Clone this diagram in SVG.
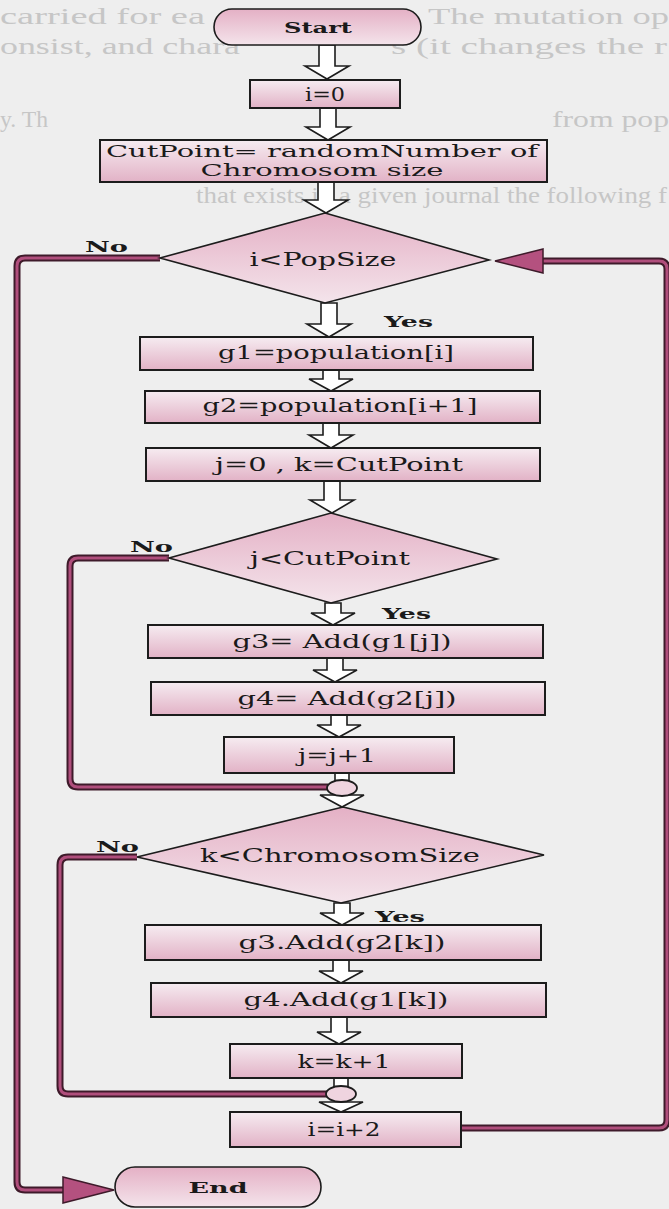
<svg xmlns="http://www.w3.org/2000/svg" width="669" height="1209" viewBox="0 0 669 1209">
<defs>
<linearGradient id="gBox" x1="0" y1="0" x2="0" y2="1"><stop offset="0" stop-color="#f6ecf1"/><stop offset="1" stop-color="#e2b2c6"/></linearGradient>
<linearGradient id="gDia" x1="0" y1="0" x2="0" y2="1"><stop offset="0" stop-color="#e4b0c5"/><stop offset="1" stop-color="#f4e4eb"/></linearGradient>
<style>
.bg{font-family:"Liberation Serif",serif;font-size:24px;fill:#c6c6c6}
.box{fill:url(#gBox);stroke:#1c1c1c;stroke-width:2}
.dia{fill:url(#gDia);stroke:#1c1c1c;stroke-width:1.6}
.t{font-family:"DejaVu Serif","Liberation Serif",serif;font-size:19px;fill:#1a1a1a;text-anchor:middle}
.t2{font-family:"DejaVu Serif","Liberation Serif",serif;font-size:16px;fill:#1a1a1a;text-anchor:middle}
.tb{font-family:"DejaVu Serif","Liberation Serif",serif;font-size:15px;font-weight:bold;fill:#1a1a1a;text-anchor:middle}
.lb{font-family:"DejaVu Serif","Liberation Serif",serif;font-size:15px;font-weight:bold;fill:#1a1a1a}
.bar{fill:#ffffff;stroke:#1c1c1c;stroke-width:1.6;stroke-linejoin:miter}
.lo{fill:none;stroke:#3e1a2a;stroke-width:7}
.li{fill:none;stroke:#b04e7c;stroke-width:3}
.ah{fill:#b4517f;stroke:#3e1a2a;stroke-width:1.5}
.jn{fill:#efd4df;stroke:#1c1c1c;stroke-width:1.8}
</style>
</defs>
<rect x="0" y="0" width="669" height="1209" fill="#eeeeee"/>
<g id="page-text">
<text class="bg" x="0" y="24" textLength="205" lengthAdjust="spacingAndGlyphs">carried for ea</text>
<text class="bg" x="428" y="24" textLength="241" lengthAdjust="spacingAndGlyphs">The mutation op</text>
<text class="bg" x="0" y="54" textLength="240" lengthAdjust="spacingAndGlyphs">onsist, and chara</text>
<text class="bg" x="391" y="54" textLength="276" lengthAdjust="spacingAndGlyphs">s (it changes the r</text>
<text class="bg" x="0" y="127" textLength="48" lengthAdjust="spacingAndGlyphs">y. Th</text>
<text class="bg" x="552" y="127" textLength="117" lengthAdjust="spacingAndGlyphs">from pop</text>
<text class="bg" x="196" y="203" textLength="471" lengthAdjust="spacingAndGlyphs">that exists in a given journal the following f</text>
</g>
<g id="connectors">
<path class="lo" d="M160,258 H25 Q17,258 17,266 V1182 Q17,1190 25,1190 H64"/>
<path class="li" d="M160,258 H25 Q17,258 17,266 V1182 Q17,1190 25,1190 H64"/>
<path class="lo" d="M169,558 H78 Q70,558 70,566 V779 Q70,787 78,787 H328"/>
<path class="li" d="M169,558 H78 Q70,558 70,566 V779 Q70,787 78,787 H328"/>
<path class="lo" d="M137,857 H68 Q60,857 60,865 V1086 Q60,1094 68,1094 H327"/>
<path class="li" d="M137,857 H68 Q60,857 60,865 V1086 Q60,1094 68,1094 H327"/>
<path class="lo" d="M461,1128 H659 Q667,1128 667,1120 V269 Q667,261 659,261 H543"/>
<path class="li" d="M461,1128 H659 Q667,1128 667,1120 V269 Q667,261 659,261 H543"/>
<path class="ah" d="M63,1177 L114,1190 L63,1203 Z"/>
<path class="ah" d="M543,249 L495,261 L543,273 Z"/>
<path class="bar" d="M319,45 H335 V66 H349 L327,79 L305,66 H319 Z"/>
<path class="bar" d="M320,108 H336 V127 H350 L328,140 L306,127 H320 Z"/>
<path class="bar" d="M318,182 H334 V200 H348 L326,213 L304,200 H318 Z"/>
<path class="bar" d="M321,303 H337 V324 H351 L329,337 L307,324 H321 Z"/>
<path class="bar" d="M323,370 H339 V379 H353 L331,391 L309,379 H323 Z"/>
<path class="bar" d="M323,423 H339 V435 H353 L331,448 L309,435 H323 Z"/>
<path class="bar" d="M324,481 H340 V500 H354 L332,513 L310,500 H324 Z"/>
<path class="bar" d="M325,603 H341 V613 H355 L333,625 L311,613 H325 Z"/>
<path class="bar" d="M327,658 H343 V670 H357 L335,682 L313,670 H327 Z"/>
<path class="bar" d="M331,715 H347 V725 H361 L339,737 L317,725 H331 Z"/>
<path class="bar" d="M335,773 H349 V782 H335 Z"/>
<path class="bar" d="M320,795 H364 L342,807 Z"/>
<path class="bar" d="M334,903 H350 V913 H364 L342,925 L320,913 H334 Z"/>
<path class="bar" d="M333,960 H349 V971 H363 L341,983 L319,971 H333 Z"/>
<path class="bar" d="M331,1017 H347 V1032 H361 L339,1044 L317,1032 H331 Z"/>
<path class="bar" d="M334,1078 H348 V1088 H334 Z"/>
<path class="bar" d="M319,1102 H363 L341,1112 Z"/>
<ellipse class="jn" cx="342" cy="788" rx="15" ry="8"/>
<ellipse class="jn" cx="341" cy="1094" rx="15" ry="8"/>
</g>
<g id="start">
<rect class="dia" x="214" y="9" width="207" height="36" rx="18"/>
<text class="tb" x="318" y="33" textLength="68" lengthAdjust="spacingAndGlyphs">Start</text>
</g>
<g id="i0">
<rect class="box" x="250" y="80" width="150" height="28"/>
<text class="t" x="325" y="101" textLength="40" lengthAdjust="spacingAndGlyphs">i=0</text>
</g>
<g id="cutpoint">
<rect class="box" x="100" y="140" width="447" height="42"/>
<text class="t2" x="322" y="157" textLength="432" lengthAdjust="spacingAndGlyphs">CutPoint= randomNumber of</text>
<text class="t2" x="322" y="176" textLength="243" lengthAdjust="spacingAndGlyphs">Chromosom size</text>
</g>
<g id="d1">
<polygon class="dia" points="325,213 489,260 325,303 160,258"/>
<text class="t" x="323" y="266" textLength="147" lengthAdjust="spacingAndGlyphs">i&lt;PopSize</text>
<text class="lb" x="85" y="252" textLength="43" lengthAdjust="spacingAndGlyphs">No</text>
<text class="lb" x="384" y="327" textLength="49" lengthAdjust="spacingAndGlyphs">Yes</text>
</g>
<g id="g1">
<rect class="box" x="140" y="337" width="393" height="33"/>
<text class="t" x="336" y="359" textLength="236" lengthAdjust="spacingAndGlyphs">g1=population[i]</text>
</g>
<g id="g2">
<rect class="box" x="145" y="391" width="395" height="32"/>
<text class="t" x="340" y="412" textLength="275" lengthAdjust="spacingAndGlyphs">g2=population[i+1]</text>
</g>
<g id="jk">
<rect class="box" x="146" y="448" width="394" height="33"/>
<text class="t" x="339" y="471" textLength="248" lengthAdjust="spacingAndGlyphs">j=0 , k=CutPoint</text>
</g>
<g id="d2">
<polygon class="dia" points="331,513 497,559 331,603 169,558"/>
<text class="t" x="330" y="565" textLength="160" lengthAdjust="spacingAndGlyphs">j&lt;CutPoint</text>
<text class="lb" x="130" y="552" textLength="43" lengthAdjust="spacingAndGlyphs">No</text>
<text class="lb" x="382" y="619" textLength="49" lengthAdjust="spacingAndGlyphs">Yes</text>
</g>
<g id="g3j">
<rect class="box" x="148" y="625" width="395" height="33"/>
<text class="t" x="342" y="648" textLength="219" lengthAdjust="spacingAndGlyphs">g3= Add(g1[j])</text>
</g>
<g id="g4j">
<rect class="box" x="151" y="682" width="394" height="33"/>
<text class="t" x="347" y="705" textLength="219" lengthAdjust="spacingAndGlyphs">g4= Add(g2[j])</text>
</g>
<g id="jinc">
<rect class="box" x="224" y="737" width="230" height="36"/>
<text class="t" x="337" y="762" textLength="78" lengthAdjust="spacingAndGlyphs">j=j+1</text>
</g>
<g id="d3">
<polygon class="dia" points="343,807 544,855 341,903 137,857"/>
<text class="t" x="340" y="862" textLength="280" lengthAdjust="spacingAndGlyphs">k&lt;ChromosomSize</text>
<text class="lb" x="96" y="852" textLength="43" lengthAdjust="spacingAndGlyphs">No</text>
<text class="lb" x="375" y="922" textLength="50" lengthAdjust="spacingAndGlyphs">Yes</text>
</g>
<g id="g3k">
<rect class="box" x="145" y="925" width="396" height="35"/>
<text class="t" x="342" y="949" textLength="207" lengthAdjust="spacingAndGlyphs">g3.Add(g2[k])</text>
</g>
<g id="g4k">
<rect class="box" x="151" y="983" width="395" height="34"/>
<text class="t" x="346" y="1006" textLength="205" lengthAdjust="spacingAndGlyphs">g4.Add(g1[k])</text>
</g>
<g id="kinc">
<rect class="box" x="230" y="1044" width="232" height="34"/>
<text class="t" x="344" y="1068" textLength="93" lengthAdjust="spacingAndGlyphs">k=k+1</text>
</g>
<g id="iinc">
<rect class="box" x="230" y="1112" width="231" height="35"/>
<text class="t" x="344" y="1136" textLength="73" lengthAdjust="spacingAndGlyphs">i=i+2</text>
</g>
<g id="end">
<rect class="dia" x="115" y="1167" width="206" height="40" rx="20"/>
<text class="tb" x="218" y="1193" textLength="59" lengthAdjust="spacingAndGlyphs">End</text>
</g>
</svg>
